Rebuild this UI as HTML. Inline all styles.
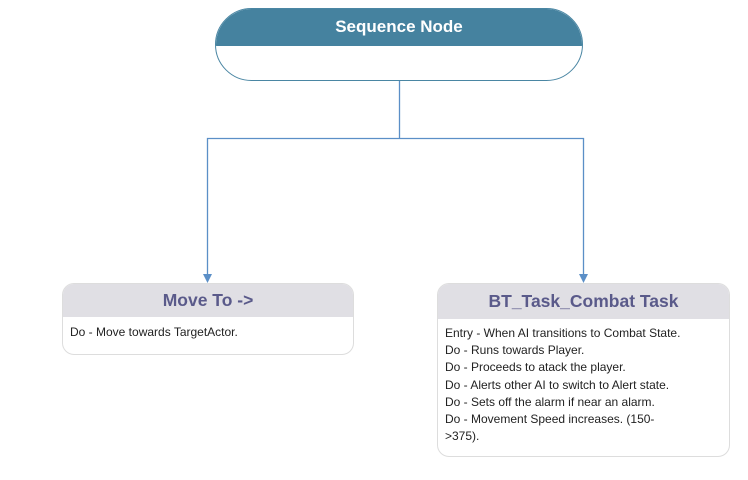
<!DOCTYPE html>
<html><head><style>
body{margin:0;width:748px;height:480px;background:#fff;font-family:"Liberation Sans",sans-serif;position:relative;overflow:hidden}
.a{position:absolute;box-sizing:border-box}
.t{font-size:12px;color:#222;line-height:17.2px}
</style></head><body>
<div class="a" style="left:215px;top:8px;width:368px;height:73px;border:1px solid #4a86a3;border-radius:37px;overflow:hidden;background:#fff">
<div style="height:37px;background:#45829f;color:#fff;font-weight:bold;font-size:17px;text-align:center;line-height:36px">Sequence Node</div>
</div>
<svg class="a" style="left:0;top:0" width="748" height="480">
<g stroke="#5b8fc7" stroke-width="1.3" fill="none">
<path d="M399.5 81V138.5H207.5V276M399.5 138.5H583.5V276"/>
</g>
<path d="M203 274h9l-4.5 9z" fill="#5b8fc7"/>
<path d="M579 274h9l-4.5 9z" fill="#5b8fc7"/>
</svg>
<div class="a" style="left:62px;top:283px;width:292px;height:72px;border:1px solid #ddd;border-radius:12px;overflow:hidden">
<div style="height:33px;background:#e0dfe4;color:#5a5a8a;font-weight:bold;font-size:17.5px;text-align:center;line-height:33px">Move To -&gt;</div>
<div class="t" style="padding:7px 0 0 7px">Do - Move towards TargetActor.</div>
</div>
<div class="a" style="left:437px;top:283px;width:293px;height:174px;border:1px solid #ddd;border-radius:12px;overflow:hidden">
<div style="height:35px;background:#e0dfe4;color:#5a5a8a;font-weight:bold;font-size:17.5px;text-align:center;line-height:34px">BT_Task_Combat Task</div>
<div class="t" style="padding:6px 0 0 7px">Entry - When AI transitions to Combat State.<br>Do - Runs towards Player.<br>Do - Proceeds to atack the player.<br>Do - Alerts other AI to switch to Alert state.<br>Do - Sets off the alarm if near an alarm.<br>Do - Movement Speed increases. (150-<br>&gt;375).</div>
</div>
</body></html>
